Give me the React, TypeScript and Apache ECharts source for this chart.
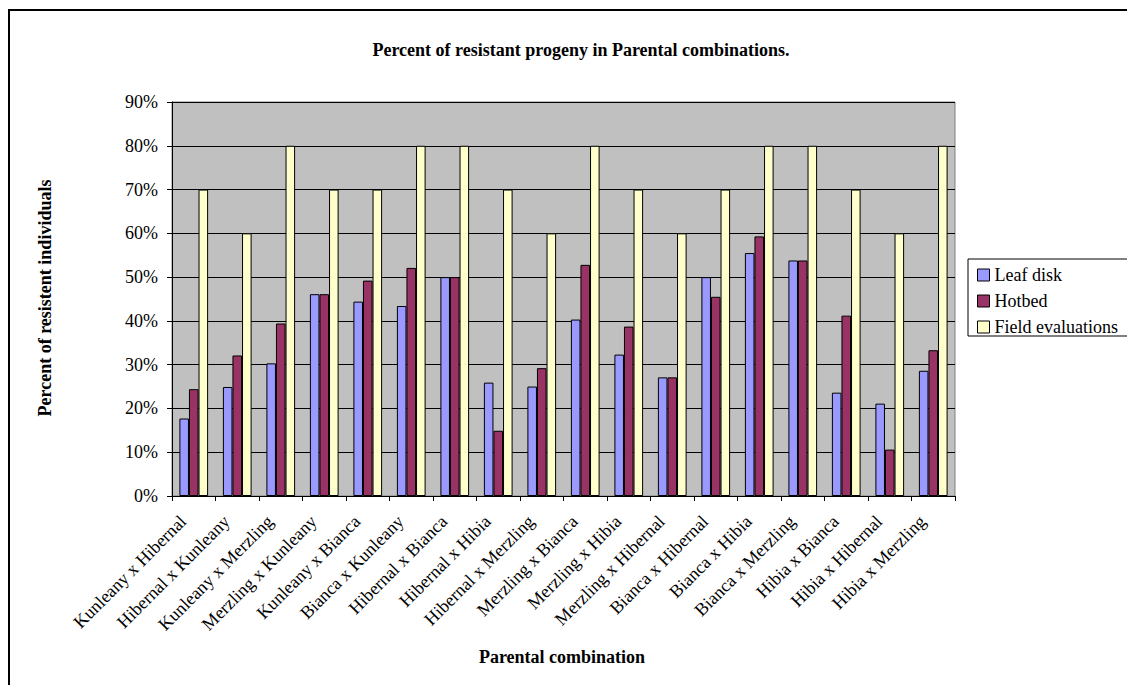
import React, { useEffect, useRef } from "react";
import * as echarts from "echarts";

const categories = [
  "Kunleany x Hibernal",
  "Hibernal x Kunleany",
  "Kunleany x Merzling",
  "Merzling x Kunleany",
  "Kunleany x Bianca",
  "Bianca x Kunleany",
  "Hibernal x Bianca",
  "Hibernal x Hibia",
  "Hibernal x Merzling",
  "Merzling x Bianca",
  "Merzling x Hibia",
  "Merzling x Hibernal",
  "Bianca x Hibernal",
  "Bianca x Hibia",
  "Bianca x Merzling",
  "Hibia x Bianca",
  "Hibia x Hibernal",
  "Hibia x Merzling",
];

const leafDisk = [17.7, 24.9, 30.3, 46.1, 44.4, 43.4, 50, 25.9, 25.0, 40.3, 32.3, 27.1, 50, 55.5, 53.8, 23.6, 21.1, 28.6];
const hotbed = [24.4, 32.1, 39.4, 46.1, 49.2, 52.1, 50, 14.9, 29.2, 52.8, 38.7, 27.1, 45.5, 59.3, 53.8, 41.2, 10.6, 33.3];
const fieldEval = [70, 60, 80, 70, 70, 80, 80, 70, 60, 80, 70, 60, 70, 80, 80, 70, 60, 80];

const seriesNames = ["Leaf disk", "Hotbed", "Field evaluations"];
const seriesColors = ["#9999FF", "#993366", "#FFFFCC"];

const FONT = "Liberation Serif, Times New Roman, serif";

export default function App() {
  const ref = useRef<HTMLDivElement>(null);
  useEffect(() => {
    if (!ref.current) return;
    const chart = echarts.init(ref.current, null, { renderer: "svg" });
    const data = [leafDisk, hotbed, fieldEval];
    chart.setOption({
      animation: false,
      backgroundColor: "#ffffff",
      textStyle: { fontFamily: FONT },
      title: {
        text: "Percent of resistant progeny in Parental combinations.",
        left: 576,
        top: 36,
        textAlign: "center",
        textStyle: { fontFamily: FONT, fontSize: 18, fontWeight: "bold", color: "#000" },
      },
      legend: {
        orient: "vertical",
        left: 972,
        top: 261,
        itemWidth: 12,
        itemHeight: 12,
        itemGap: 8,
        icon: "rect",
        data: seriesNames,
        itemStyle: { borderColor: "#000", borderWidth: 1 },
        textStyle: { fontFamily: FONT, fontSize: 18, color: "#000", padding: [0, 0, 0, 0] },
      },
      grid: {
        left: 172,
        right: 172,
        top: 102,
        bottom: 189,
        show: true,
        backgroundColor: "#C0C0C0",
        borderColor: "#808080",
        borderWidth: 1,
      },
      xAxis: {
        type: "category",
        data: categories,
        boundaryGap: true,
        axisLine: { lineStyle: { color: "#000", width: 1 } },
        axisTick: { show: true, length: 5, inside: false, lineStyle: { color: "#000" } },
        axisLabel: {
          rotate: 45,
          interval: 0,
          margin: 33,
          verticalAlign: "bottom",
          padding: [0, 0, 6, 0],
          fontFamily: FONT,
          fontSize: 18,
          color: "#000",
        },
      },
      yAxis: {
        type: "value",
        min: 0,
        max: 90,
        interval: 10,
        axisLine: { show: true, lineStyle: { color: "#000", width: 1 } },
        axisTick: { show: true, length: 5, lineStyle: { color: "#000" } },
        axisLabel: {
          formatter: "{value}%",
          margin: 14,
          fontFamily: FONT,
          fontSize: 18,
          color: "#000",
        },
        splitLine: { show: true, lineStyle: { color: "#000", width: 1 } },
      },
      series: seriesNames.map((name, i) => ({
        name,
        type: "bar",
        data: data[i],
        barGap: "0%",
        barCategoryGap: "34%",
        itemStyle: { color: seriesColors[i], borderColor: "#000", borderWidth: 1 },
      })),
      graphic: [
        {
          type: "rect",
          shape: { x: 9, y: 10, width: 1300, height: 900 },
          style: { fill: "none", stroke: "#000", lineWidth: 2 },
          silent: true,
          z: 100,
        },
        {
          type: "rect",
          shape: { x: 968, y: 259, width: 300, height: 77 },
          style: { fill: "none", stroke: "#000", lineWidth: 1 },
          silent: true,
        },
        {
          type: "text",
          x: 45,
          y: 298,
          rotation: Math.PI / 2,
          style: {
            text: "Percent of resistent individuals",
            fontFamily: FONT,
            fontSize: 18,
            fontWeight: "bold",
            fill: "#000",
            textAlign: "center",
            textVerticalAlign: "middle",
          },
        },
        {
          type: "text",
          x: 562,
          y: 657,
          style: {
            text: "Parental combination",
            fontFamily: FONT,
            fontSize: 18,
            fontWeight: "bold",
            fill: "#000",
            textAlign: "center",
            textVerticalAlign: "middle",
          },
        },
      ],
    });
    return () => chart.dispose();
  }, []);
  return (
    <div
      ref={ref}
      style={{ position: "fixed", left: 0, top: 0, width: 1127, height: 685 }}
    />
  );
}
